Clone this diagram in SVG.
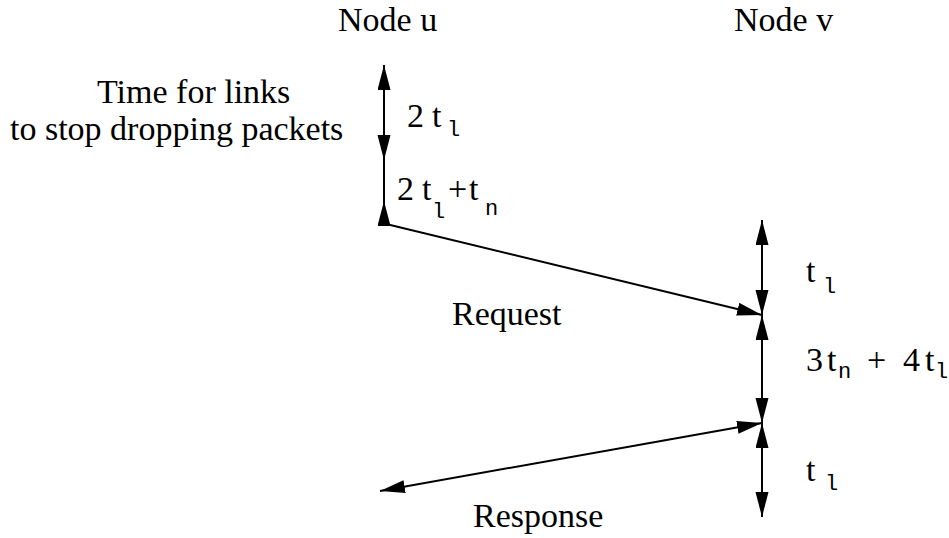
<svg xmlns="http://www.w3.org/2000/svg" width="949" height="538" viewBox="0 0 949 538">
<style>
.t{font-family:'Liberation Serif','DejaVu Serif',serif;font-size:34px;fill:#000}
.s{font-family:'Liberation Mono','DejaVu Sans Mono',monospace;font-size:22px}
.ln{stroke:#000;stroke-width:2;fill:none}
</style>
<defs>
<marker id="ah" markerUnits="userSpaceOnUse" markerWidth="26" markerHeight="14" refX="25" refY="6.5" orient="auto-start-reverse">
<path d="M0,0 L25,6.5 L0,13 z" fill="#000"/>
</marker>
</defs>
<rect width="949" height="538" fill="#fff"/>
<g id="node-u">
<text class="t" x="338" y="31">Node u</text>
</g>
<g id="node-v">
<text class="t" x="734" y="31">Node v</text>
</g>
<g id="note">
<text class="t" x="97" y="103">Time for links</text>
<text class="t" x="10" y="140">to stop dropping packets</text>
</g>
<g id="connectors">
<line class="ln" x1="384" y1="160" x2="384" y2="65" marker-start="url(#ah)" marker-end="url(#ah)"/>
<line class="ln" x1="384" y1="160" x2="384" y2="223"/>
<line class="ln" x1="384" y1="225" x2="384" y2="201" marker-end="url(#ah)"/>
<line class="ln" x1="762" y1="220" x2="762" y2="315" marker-start="url(#ah)" marker-end="url(#ah)"/>
<line class="ln" x1="762" y1="315" x2="762" y2="423" marker-start="url(#ah)" marker-end="url(#ah)"/>
<line class="ln" x1="762" y1="423" x2="762" y2="517" marker-start="url(#ah)" marker-end="url(#ah)"/>
<line class="ln" x1="382" y1="223" x2="762" y2="315" marker-end="url(#ah)"/>
<line class="ln" x1="380" y1="491" x2="762" y2="423" marker-start="url(#ah)" marker-end="url(#ah)"/>
</g>
<g id="labels">
<text class="t" x="407" y="127">2<tspan x="432">t</tspan><tspan class="s" x="447" y="136">l</tspan></text>
<text class="t" x="397" y="200">2<tspan x="422">t</tspan><tspan class="s" x="432" y="218">l</tspan><tspan x="448" y="200">+</tspan><tspan x="469">t</tspan><tspan class="s" x="485" y="215">n</tspan></text>
<text class="t" x="452" y="325">Request</text>
<text class="t" x="806" y="282">t<tspan class="s" x="823" y="293">l</tspan></text>
<text class="t" x="806" y="371">3<tspan x="827">t</tspan><tspan class="s" x="838" y="378">n</tspan><tspan x="867" y="371">+</tspan><tspan x="903">4</tspan><tspan x="925">t</tspan><tspan class="s" x="935" y="378">l</tspan></text>
<text class="t" x="806" y="481">t<tspan class="s" x="825" y="490">l</tspan></text>
<text class="t" x="473" y="527">Response</text>
</g>
</svg>
